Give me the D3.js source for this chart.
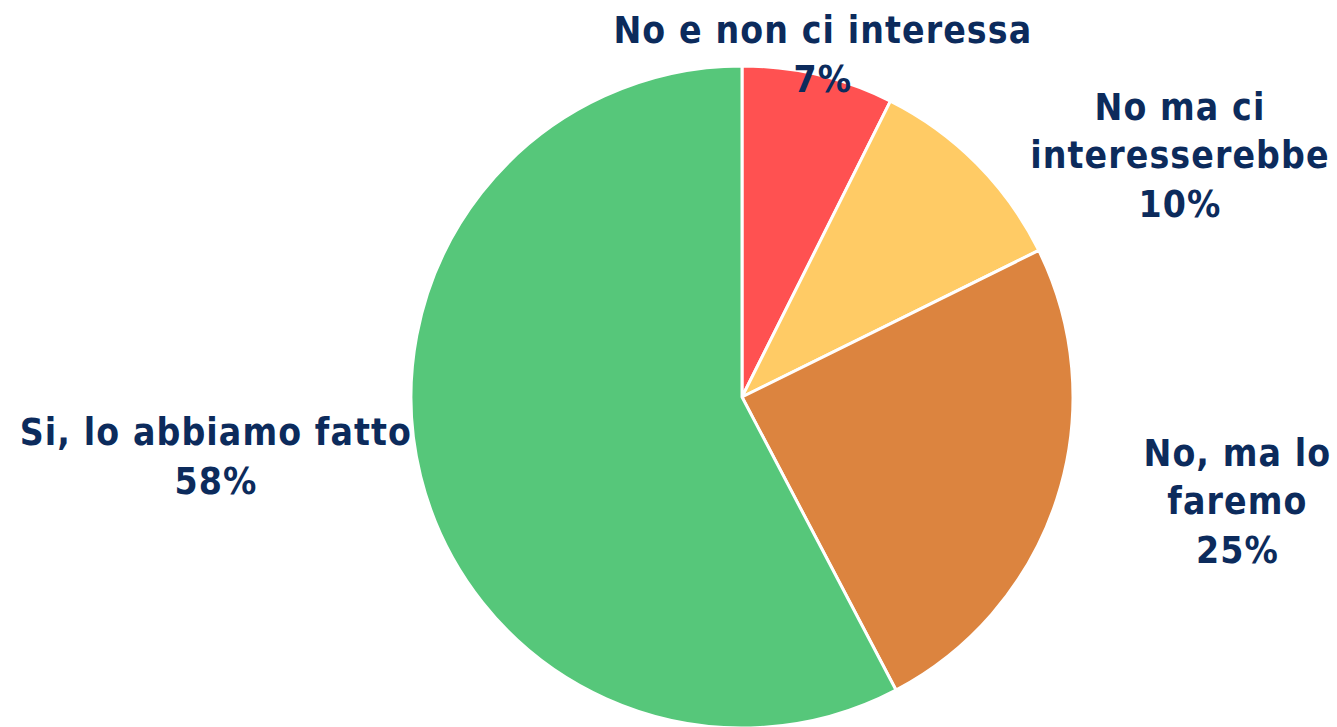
<html>
  <head>
    <meta charset="utf-8" />
    <script src="https://d3js.org/d3.v7.min.js"></script>
    <style>
      body {
        margin: 0;
        background: #fff;
      }
      .lbl {
        font-family: "DejaVu Sans Condensed", "DejaVu Sans", sans-serif;
        font-weight: bold;
        font-size: 37px;
        letter-spacing: 1.1px;
        fill: #0c2b5c;
      }
    </style>
  </head>
  <body>
    <svg id="chart" width="1337" height="727"></svg>
    <script>
      // data, clockwise from 12 o'clock
      var categories = [
        "No e non ci interessa",
        "No ma ci interesserebbe",
        "No, ma lo faremo",
        "Si, lo abbiamo fatto",
      ];
      var values = [7.4, 10.3, 24.6, 57.7];
      var pctLabels = ["7%", "10%", "25%", "58%"];
      // how each label wraps
      var labelLines = [
        ["No e non ci interessa", "7%"],
        ["No ma ci", "interesserebbe", "10%"],
        ["No, ma lo", "faremo", "25%"],
        ["Si, lo abbiamo fatto", "58%"],
      ];

      var colors = ["#ff5151", "#ffcb65", "#dc843f", "#56c77a"];

      var svg = d3.select("#chart"),
        cx = 742,
        cy = 397,
        radius = 331;

      var pie = d3
        .pie()
        .sort(null)
        .value((d) => d);

      var arc = d3.arc().innerRadius(0).outerRadius(radius);

      var arcs = pie(values);

      var g = svg
        .append("g")
        .attr("transform", "translate(" + cx + "," + cy + ")");

      g.selectAll("path")
        .data(arcs)
        .enter()
        .append("path")
        .attr("d", arc)
        .attr("fill", (d, i) => colors[i])
        .attr("stroke", "#fff")
        .attr("stroke-width", 3)
        .attr("stroke-linejoin", "round");

      // label centres, as (angle offset deg, distance factor) from each slice middle
      var labelPlace = [
        [0, 1.06],
        [16, 1.51],
        [-6, 1.53],
        [7.3, 1.6],
      ];
      var lineH = 48.5;

      var labels = g
        .selectAll("text.lbl")
        .data(arcs)
        .enter()
        .append("text")
        .attr("class", "lbl")
        .attr("text-anchor", "middle")
        .attr("transform", function (d, i) {
          var a = (d.startAngle + d.endAngle) / 2 + (labelPlace[i][0] * Math.PI) / 180;
          var r = radius * labelPlace[i][1];
          var x = r * Math.sin(a),
            y = -r * Math.cos(a);
          return "translate(" + x + "," + y + ")";
        });

      labels.each(function (d, i) {
        var lines = labelLines[i];
        var t = d3.select(this);
        var y0 = -((lines.length - 1) * lineH) / 2 + 12;
        lines.forEach(function (l, j) {
          t.append("tspan")
            .attr("x", 0)
            .attr("y", y0 + j * lineH)
            .text(j == lines.length - 1 ? pctLabels[i] : l);
        });
      });
    </script>
  </body>
</html>
